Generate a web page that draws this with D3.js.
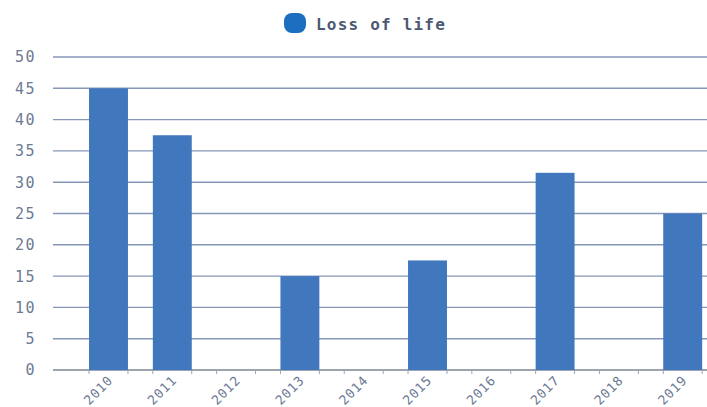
<!DOCTYPE html>
<html><head><meta charset="utf-8">
<script src="https://cdn.jsdelivr.net/npm/d3@7"></script>
<style>body{margin:0;background:#fff}svg{display:block}</style>
</head><body>
<svg id="c" width="707" height="407"></svg>
<script>
const categories = ["2010","2011","2012","2013","2014","2015","2016","2017","2018","2019"];
const lossOfLife = [45, 37.5, 0, 15, 0, 17.5, 0, 31.5, 0, 25];
const yTicks = [0,5,10,15,20,25,30,35,40,45,50];
const seriesName = "Loss of life";

const svg = d3.select("#c");
const x = d3.scaleBand().domain(categories).range([76.6, 714.6]).paddingInner(0.39).paddingOuter(0.195);
const y = d3.scaleLinear().domain([0,50]).range([370, 57]);
const gridLeft = 53, gridRight = 707;
const mono = "'DejaVu Sans Mono', 'Liberation Mono', monospace";

// gridlines
svg.append("g").selectAll("line").data(yTicks).join("line")
  .attr("x1", gridLeft).attr("x2", gridRight)
  .attr("y1", d => y(d)).attr("y2", d => y(d))
  .attr("stroke", d => d === 0 ? "#7d8595" : "#8797b8").attr("stroke-width", 1.4);

// y labels
svg.append("g").selectAll("text").data(yTicks).join("text")
  .attr("x", 36).attr("y", d => y(d)).attr("dy", "0.36em")
  .attr("text-anchor", "end")
  .attr("font-family", mono).attr("font-size", 15).attr("letter-spacing", 1.5)
  .attr("fill", "#6c7a92").text(d => d);

// bars
svg.append("g").selectAll("rect").data(categories).join("rect")
  .attr("x", d => x(d)).attr("width", x.bandwidth())
  .attr("y", (d,i) => y(lossOfLife[i]))
  .attr("height", (d,i) => y(0) - y(lossOfLife[i]))
  .attr("fill", "#4077bd");

// small ticks at band edges
const edges = [];
categories.forEach(c => { edges.push(x(c)); edges.push(x(c) + x.bandwidth()); });
svg.append("g").selectAll("line").data(edges).join("line")
  .attr("x1", d => d).attr("x2", d => d)
  .attr("y1", 370).attr("y2", 374)
  .attr("stroke", "#9aa3b5").attr("stroke-width", 1);

// x labels
svg.append("g").selectAll("text").data(categories).join("text")
  .attr("transform", d => `translate(${x(d) + x.bandwidth()/2 + 2},${378}) rotate(-45)`)
  .attr("text-anchor", "end").attr("dy", "0.35em")
  .attr("font-family", mono).attr("font-size", 13).attr("letter-spacing", 0.8)
  .attr("fill", "#6a7892").text(d => d);

// legend
const lg = svg.append("g");
lg.append("rect").attr("x", 284).attr("y", 13).attr("width", 22).attr("height", 20)
  .attr("rx", 8).attr("fill", "#1c6fc0");
lg.append("text").attr("x", 316).attr("y", 24).attr("dy", "0.35em")
  .attr("font-family", mono).attr("font-size", 16).attr("font-weight", "bold")
  .attr("letter-spacing", 1.2)
  .attr("fill", "#4c5874").text(seriesName);
</script>
</body></html>
